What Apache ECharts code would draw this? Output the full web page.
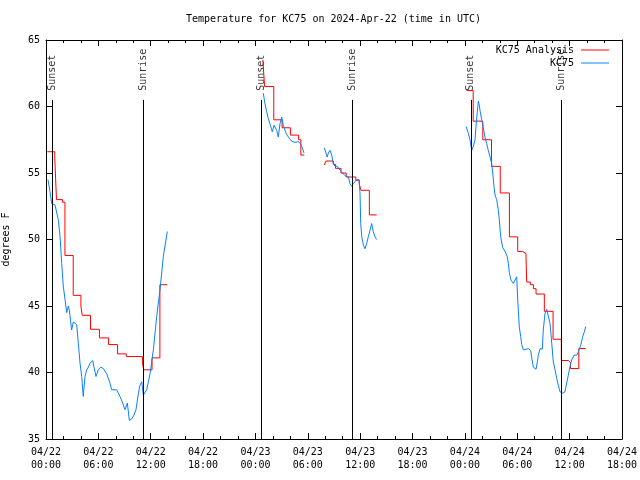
<!DOCTYPE html>
<html><head><meta charset="utf-8">
<script src="https://cdn.jsdelivr.net/npm/echarts@6/dist/echarts.min.js"></script>
<style>html,body{margin:0;padding:0;background:#fff}#c{width:640px;height:480px}</style>
</head><body><div id="c"></div>
<script>
// ---- data (x = hours since 2024-04-22 00:00 UTC, y = degrees F) ----
const titleText = 'Temperature for KC75 on 2024-Apr-22 (time in UTC)';
const xTickLabels = ['04/22\n00:00','04/22\n06:00','04/22\n12:00','04/22\n18:00',
  '04/23\n00:00','04/23\n06:00','04/23\n12:00','04/23\n18:00',
  '04/24\n00:00','04/24\n06:00','04/24\n12:00','04/24\n18:00'];
const sunEventHours = [0.72, 11.13, 24.72, 35.14, 48.68, 59.05];
const sunEventNames = ['Sunset','Sunrise','Sunset','Sunrise','Sunset','Sunrise'];

const obsSeg1 = [[0.23,54.5],[0.46,53.6],[0.65,52.7],[1.03,52.6],[1.41,51.5],[1.60,50.3],[1.80,48.2],
 [1.98,46.5],[2.18,45.5],[2.37,44.5],[2.56,45.0],[2.67,44.7],[2.83,43.8],[2.94,43.2],[3.13,43.8],
 [3.32,43.9],[3.52,43.6],[3.70,42.2],[3.90,40.7],[4.09,39.7],[4.27,38.2],[4.47,39.7],[4.66,40.2],
 [4.85,40.4],[5.04,40.7],[5.35,40.9],[5.50,40.4],[5.73,39.7],[5.99,40.2],[6.27,40.4],[6.57,40.3],
 [6.96,39.9],[7.33,39.2],[7.53,38.7],[8.10,38.7],[8.48,38.2],[8.79,37.7],[9.05,37.2],[9.32,37.7],
 [9.55,36.4],[9.82,36.5],[10.08,36.8],[10.31,37.2],[10.58,38.4],[10.77,39.05],[10.97,39.3],
 [11.15,38.3],[11.34,38.4],[11.54,38.7],[11.92,39.9],[12.30,41.7],[12.68,44.2],[13.06,46.2],
 [13.44,48.7],[13.90,50.6]];
const obsSeg2 = [[24.90,61.0],[25.09,60.2],[25.29,59.6],[25.47,59.1],[25.75,58.5],[25.93,58.1],
 [26.13,58.6],[26.32,58.7],[26.44,58.2],[26.62,57.7],[26.81,58.7],[27.01,59.2],[27.19,58.6],
 [27.39,58.2],[27.58,57.9],[27.88,57.6],[28.15,57.4],[28.53,57.3],[28.91,57.35],[29.18,57.2],
 [29.37,56.9],[29.56,56.5]];
const obsSeg3 = [[31.89,56.9],[32.08,56.5],[32.23,56.2],[32.35,56.5],[32.54,56.7],[32.74,56.35],
 [32.92,55.7],[33.12,55.5],[33.38,55.5],[33.69,55.2],[34.00,55.0],[34.26,54.8],[34.64,54.7],
 [34.83,54.2],[35.03,54.0],[35.21,54.2],[35.41,54.35],[35.60,54.5],[35.87,54.5],[35.98,53.5],
 [36.06,51.2],[36.18,50.2],[36.36,49.6],[36.55,49.3],[36.75,49.7],[36.93,50.2],[37.13,50.7],
 [37.32,51.2],[37.50,50.6],[37.70,50.2],[37.89,50.0]];
const obsSeg4 = [[48.13,58.5],[48.28,58.4],[48.39,58.0],[48.58,57.5],[48.78,56.7],[48.96,57.0],
 [49.16,57.5],[49.27,58.5],[49.42,59.6],[49.54,60.4],[49.65,60.1],[49.73,59.7],[49.93,59.0],
 [50.11,58.4],[50.30,57.7],[50.50,57.2],[50.68,56.7],[50.88,56.2],[51.07,55.7],[51.19,55.0],
 [51.33,54.0],[51.45,53.35],[51.64,53.0],[51.83,52.2],[51.94,51.5],[52.10,50.2],[52.33,49.4],
 [52.60,49.1],[52.86,48.7],[52.98,48.2],[53.09,47.5],[53.28,46.95],[53.55,46.7],[53.74,46.95],
 [53.94,47.2],[54.05,45.45],[54.23,43.45],[54.39,42.7],[54.51,42.1],[54.69,41.7],[55.00,41.75],
 [55.27,41.8],[55.54,41.65],[55.66,41.1],[55.84,40.4],[56.15,40.25],[56.30,40.8],[56.41,41.3],
 [56.61,41.8],[56.87,41.75],[56.98,43.2],[57.18,44.45],[57.37,44.75],[57.56,44.7],[57.75,43.7],
 [57.95,42.2],[58.13,40.8],[58.33,40.2],[58.52,39.55],[58.70,39.05],[58.90,38.55],[59.21,38.45],
 [59.47,38.55],[59.66,39.2],[59.85,39.8],[60.04,40.45],[60.24,40.95],[60.50,41.3],[60.81,41.3],
 [60.99,41.55],[61.27,42.05],[61.50,42.7],[61.68,43.05],[61.84,43.45]];

const anaSeg1 = [[0.15,56.6],[1.0,56.2],[1.2,53.0],[1.9,52.8],[2.17,48.8],[3.12,45.8],[4.0,45.0],
 [4.15,44.3],[5.1,43.25],[6.12,42.6],[7.17,42.1],[8.2,41.4],[9.2,41.2],[11.05,40.7],[11.2,40.2],
 [12.15,41.1],[13.05,46.6],[13.9,46.6]];
const anaSeg2 = [[24.85,63.5],[25.05,61.5],[26.1,59.0],[27.05,58.4],[28.0,57.85],[28.95,57.5],
 [29.2,56.35],[29.6,56.35]];
const anaSeg3 = [[31.89,55.6],[32.08,55.9],[32.92,55.65],[33.17,55.35],[33.8,55.0],[34.4,54.7],
 [35.5,54.45],[35.9,54.15],[36.1,53.7],[37.05,51.85],[37.9,51.85]];
const anaSeg4 = [[48.2,61.2],[48.95,58.9],[50.05,57.5],[51.05,55.5],[52.05,53.5],[53.1,50.2],
 [54.05,49.1],[54.6,48.95],[55.0,48.7],[55.08,46.8],[55.5,46.6],[55.85,46.3],[56.15,45.9],
 [57.1,44.6],[58.1,42.5],[59.05,40.9],[59.85,40.75],[60.1,40.3],[61.05,41.8],[61.84,41.8]];

const anaName = 'KC75 Analysis';
const obsName = 'KC75';
// ---- chart ----
const FONT = 'DejaVu Sans Mono';
const txt = {fontFamily: FONT, fontSize: 10, color: '#000'};
const chart = echarts.init(document.getElementById('c'), null, {renderer: 'canvas'});

const anaSeries = [anaSeg1, anaSeg2, anaSeg3, anaSeg4].map(d => ({
  name: anaName, type: 'line', data: d, step: 'end', symbol: 'none', z: 3,
  lineStyle: {color: '#ff0000', width: 1}, itemStyle: {color: '#ff0000'}
}));
const obsSeries = [obsSeg1, obsSeg2, obsSeg3, obsSeg4].map(d => ({
  name: obsName, type: 'line', data: d, symbol: 'none', z: 4,
  lineStyle: {color: '#0a80ff', width: 1}, itemStyle: {color: '#0a80ff'}
}));

const axisCommon = {
  axisLine: {show: true, onZero: false, lineStyle: {color: '#000', width: 1}},
  splitLine: {show: false}
};

chart.setOption({
  animation: false,
  backgroundColor: '#fff',
  title: {text: titleText, left: 186, top: 14, padding: 0,
    textStyle: {fontFamily: FONT, fontSize: 10, fontWeight: 'normal', color: '#000'}},
  legend: {data: [anaName, obsName], orient: 'vertical', align: 'right', right: 31, top: 44,
    padding: 0, itemGap: 1, itemWidth: 28, itemHeight: 1, icon: 'rect',
    textStyle: Object.assign({}, txt, {lineHeight: 12, padding: [0, 2, 0, 0]})},
  grid: {left: 46, right: 18, top: 40, bottom: 41, containLabel: false, outerBoundsMode: 'none'},
  xAxis: [
    Object.assign({type: 'value', min: 0, max: 66, interval: 6, position: 'bottom',
      axisTick: {show: true, inside: true, length: 6, lineStyle: {color: '#000'}},
      minorTick: {show: true, splitNumber: 3, length: 3, lineStyle: {color: '#000'}},
      minorSplitLine: {show: false},
      axisLabel: Object.assign({}, txt, {margin: 7, lineHeight: 13,
        formatter: v => xTickLabels[Math.round(v / 6)] || ''})}, axisCommon),
    Object.assign({type: 'value', min: 0, max: 66, interval: 6, position: 'top',
      axisTick: {show: true, inside: true, length: 6, lineStyle: {color: '#000'}},
      minorTick: {show: true, splitNumber: 3, length: 3, lineStyle: {color: '#000'}},
      axisLabel: {show: false}}, axisCommon)
  ],
  yAxis: [
    Object.assign({type: 'value', min: 35, max: 65, interval: 5, position: 'left',
      name: 'degrees F', nameLocation: 'middle', nameGap: 35, nameRotate: 90,
      nameTextStyle: txt,
      axisTick: {show: true, inside: true, length: 6, lineStyle: {color: '#000'}},
      axisLabel: Object.assign({}, txt, {margin: 6})}, axisCommon),
    Object.assign({type: 'value', min: 35, max: 65, interval: 5, position: 'right',
      axisTick: {show: true, inside: true, length: 6, lineStyle: {color: '#000'}},
      axisLabel: {show: false}}, axisCommon)
  ],
  series: [
    {
      name: 'sun', type: 'scatter', symbolSize: 0, z: 2, silent: true,
      data: sunEventHours.map(h => [h, 61.1]),
      label: {show: true, position: [0, 0], rotate: 90, align: 'left', verticalAlign: 'middle',
        offset: [1, 0], fontFamily: FONT, fontSize: 10, color: '#000',
        formatter: p => sunEventNames[p.dataIndex]},
      markLine: {silent: true, symbol: ['none', 'none'], label: {show: false},
        lineStyle: {color: '#000', width: 1, type: 'solid'}, emphasis: {disabled: true},
        data: sunEventHours.map(h => [{coord: [h, 35]}, {coord: [h, 60.5]}])}
    }
  ].concat(anaSeries, obsSeries)
});
</script></body></html>
